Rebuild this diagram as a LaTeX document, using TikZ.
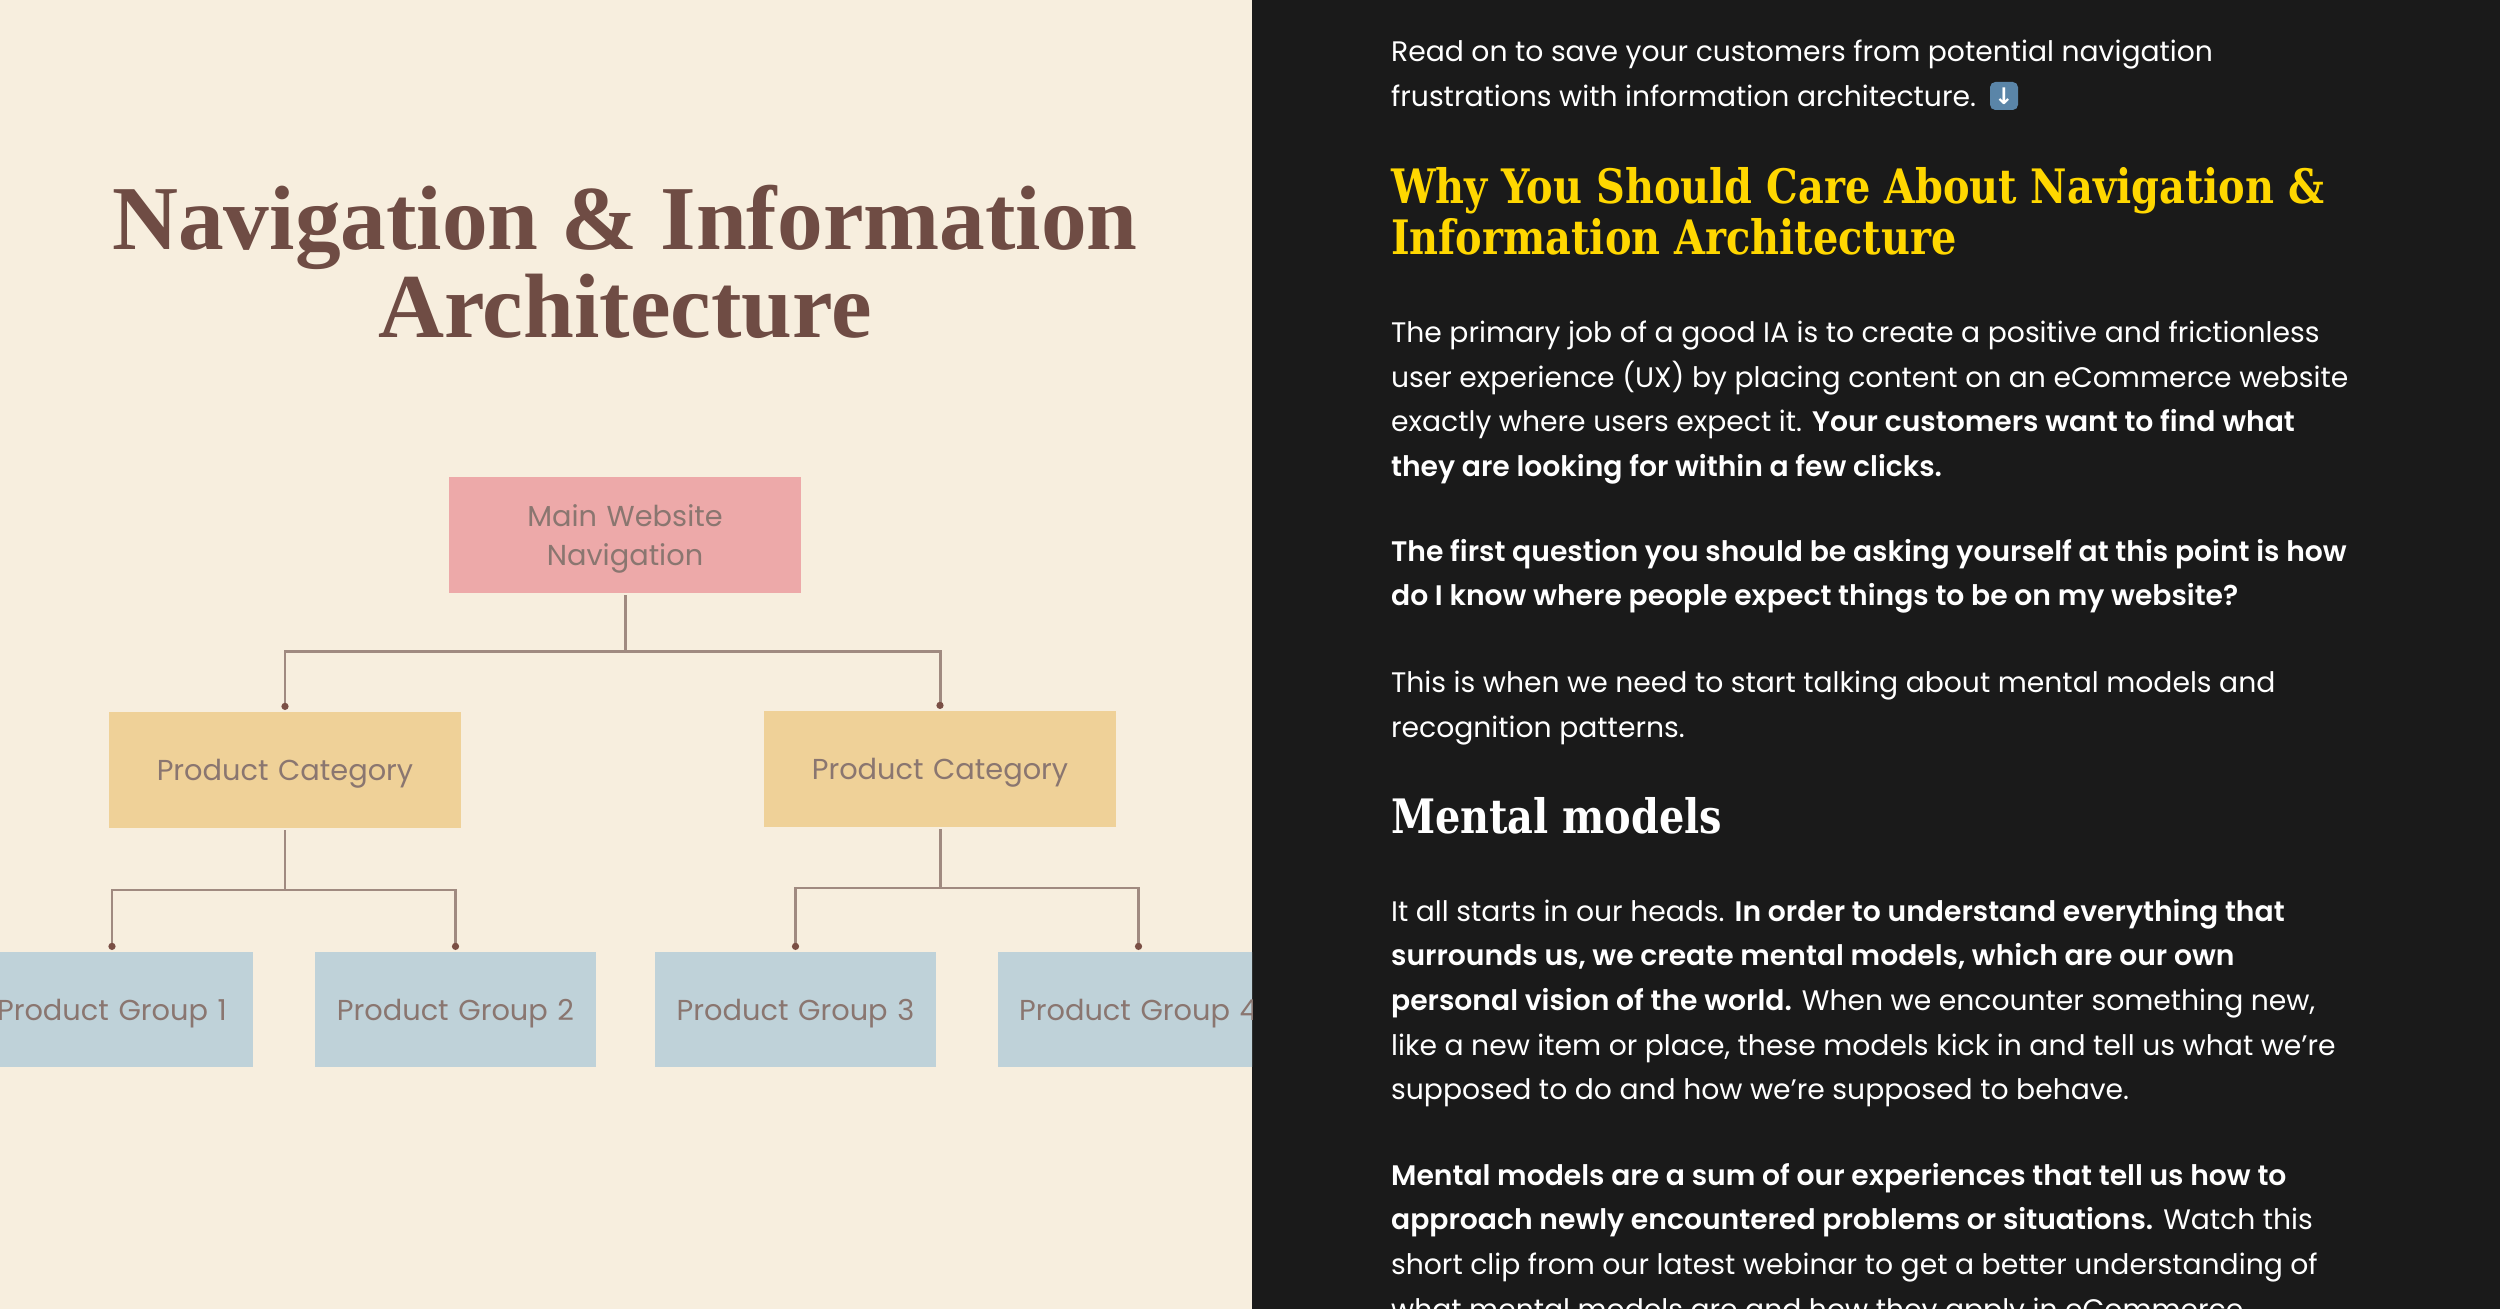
\documentclass[tikz,border=0pt]{standalone}
\usepackage{fontspec}
\setmainfont{Poppins}[BoldFont={Poppins SemiBold}]
\newfontfamily\titlefont{Liberation Serif}
\newfontfamily\headfont[FakeStretch=0.84]{DejaVu Serif}
\newfontfamily\symbolfont{DejaVu Sans}
\usetikzlibrary{arrows.meta, positioning}
\definecolor{cpaper}{HTML}{F7EEDE}
\definecolor{cdark}{HTML}{1A1A1A}
\definecolor{cpink}{HTML}{EDA9A9}
\definecolor{csand}{HTML}{EFD198}
\definecolor{cblue}{HTML}{BFD2D9}
\definecolor{cbrown}{HTML}{6F4C44}
\definecolor{cline}{HTML}{A08A80}
\definecolor{cdot}{HTML}{7A4F45}
\definecolor{clabel}{HTML}{8A7670}
\definecolor{cyellow}{HTML}{FFD700}
\definecolor{ctile}{HTML}{5A85A8}
\tikzset{
  every picture/.style={line width=1.2pt},
  box/.style={fill=#1, align=center, text=clabel, inner sep=0pt, text width=3.52cm, minimum height=1.16cm, text depth=0pt,
    font=\fontsize{8.2pt}{11.3pt}\selectfont},
  box/.default=cblue,
  link/.style={draw=cline, line width=0.85pt},
  tip/.style={link, -{Circle[length=0.7mm, color=cdot]}},
  title/.style={font=\titlefont\bfseries\fontsize{26pt}{25pt}\selectfont, text=cbrown, align=center},
  para/.style={anchor=north west, inner sep=0pt, align=left, text=white, font=\fontsize{8.03pt}{12.69pt}\selectfont},
  head/.style={anchor=north west, inner sep=0pt, align=left, font=\headfont\bfseries\fontsize{13.5pt}{14.5pt}\selectfont},
}

\begin{document}
\begin{tikzpicture}[y=-1cm]
  \useasboundingbox (0,0) rectangle (25,13.09);
  \fill[cpaper] (0,0) rectangle (12.52,13.09);
  \fill[cdark] (12.52,0) rectangle (25,13.09);

  % ---- left panel: the site map
  \node[title] (maintitle) at (6.25,2.62) {Navigation \& Information\\Architecture};

  \begin{scope}
    \clip (0,0) rectangle (12.52,13.09);
    \node[box=cpink, text depth=11.3pt] (mainnav) at (6.25,5.35) {Main Website\\Navigation};
    \node[box=csand] (cat1) at (2.85,7.70) {Product Category};
    \node[box=csand] (cat2) at (9.40,7.69) {Product Category};
    \node[box, text width=2.81cm, minimum height=1.15cm] (grp1) at (1.12,10.095) {Product Group 1};
    \node[box, text width=2.81cm, minimum height=1.15cm] (grp2) at (4.555,10.095) {Product Group 2};
    \node[box, text width=2.81cm, minimum height=1.15cm] (grp3) at (7.955,10.095) {Product Group 3};
    \node[box, text width=2.81cm, minimum height=1.15cm] (grp4) at (11.385,10.095) {Product Group 4};
  \end{scope}

  \coordinate (hubtop) at (6.25,6.52);
  \coordinate (hubleft) at (2.85,8.90);
  \coordinate (hubright) at (9.40,8.88);

  \draw[link] (mainnav.south) -- (hubtop);
  \draw[tip] (hubtop) -| (cat1.north);
  \draw[tip] (hubtop) -| (cat2.north);
  \draw[link] (cat1.south) -- (hubleft);
  \draw[link] (cat2.south) -- (hubright);
  \foreach \g in {grp1, grp2} \draw[tip] (hubleft) -| (\g.north);
  \foreach \g in {grp3, grp4} \draw[tip] (hubright) -| (\g.north);

  % ---- right panel: the article
  \node[para] (intro) at (13.89,0.38) {Read on to save your customers from potential navigation\\frustrations with information architecture.};
  \node[fill=ctile, rounded corners=1.5pt, inner sep=0pt, minimum width=0.28cm, minimum height=0.28cm, text=white,
    font=\symbolfont\bfseries\fontsize{6.5pt}{7pt}\selectfont] (downtile) at (20.04,0.96) {↓};

  \node[head, text=cyellow] (whyhead) at (13.89,1.65) {Why You Should Care About Navigation \&\\Information Architecture};

  \node[para] (job) at (13.89,3.19) {The primary job of a good IA is to create a positive and frictionless\\user experience (UX) by placing content on an eCommerce website\\exactly where users expect it. \textbf{Your customers want to find what}\\\textbf{they are looking for within a few clicks.}};

  \node[para] (question) at (13.89,5.37) {\textbf{The first question you should be asking yourself at this point is how}\\\textbf{do I know where people expect things to be on my website?}};

  \node[para] (talking) at (13.89,6.69) {This is when we need to start talking about mental models and\\recognition patterns.};

  \node[head, text=white] (modelshead) at (13.89,7.95) {Mental models};

  \node[para] (heads) at (13.89,8.97) {It all starts in our heads. \textbf{In order to understand everything that}\\\textbf{surrounds us, we create mental models, which are our own}\\\textbf{personal vision of the world.} When we encounter something new,\\like a new item or place, these models kick in and tell us what we’re\\supposed to do and how we’re supposed to behave.};

  \node[para] (sum) at (13.89,11.61) {\textbf{Mental models are a sum of our experiences that tell us how to}\\\textbf{approach newly encountered problems or situations.} Watch this\\short clip from our latest webinar to get a better understanding of\\what mental models are and how they apply in eCommerce};
\end{tikzpicture}
\end{document}
